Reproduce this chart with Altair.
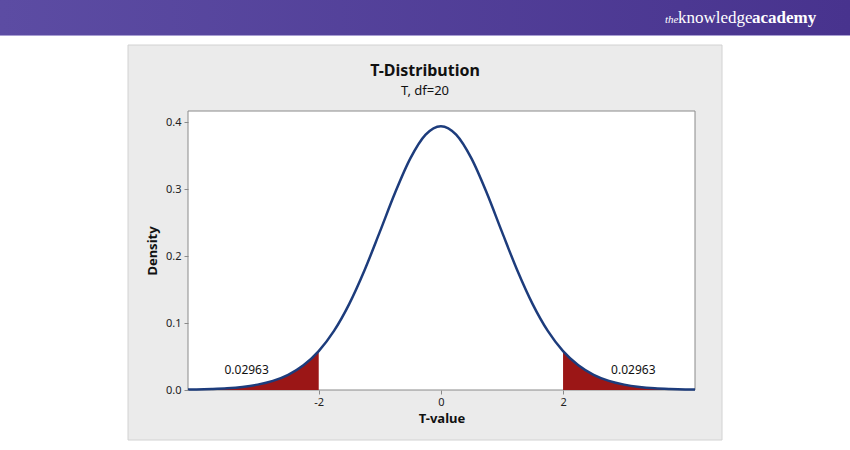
import altair as alt
import pandas as pd

# ---- data ----
t_values = [-4.14, -4.0, -3.75, -3.5, -3.25, -3.0, -2.75, -2.5, -2.25, -2.0,
            -1.75, -1.5, -1.25, -1.0, -0.75, -0.5, -0.25, 0.0,
            0.25, 0.5, 0.75, 1.0, 1.25, 1.5, 1.75, 2.0,
            2.25, 2.5, 2.75, 3.0, 3.25, 3.5, 3.75, 4.0, 4.16]
density = [0.0006, 0.0008, 0.0015, 0.0026, 0.0046, 0.0080, 0.0136, 0.0227, 0.0369, 0.0581,
           0.0882, 0.1286, 0.1788, 0.2360, 0.2944, 0.3457, 0.3812, 0.3939,
           0.3812, 0.3457, 0.2944, 0.2360, 0.1788, 0.1286, 0.0882, 0.0581,
           0.0369, 0.0227, 0.0136, 0.0080, 0.0046, 0.0026, 0.0015, 0.0008, 0.0006]

label_t = [-3.18, 3.15]
label_density = [0.030, 0.030]
label_text = ["0.02963", "0.02963"]

x_ticks = [-2, 0, 2]
y_ticks = [0.0, 0.1, 0.2, 0.3, 0.4]

title_text = "T-Distribution"
subtitle_text = "T, df=20"
x_title = "T-value"
y_title = "Density"

# ---- layout ----
W, H = 507, 279          # plot area
LEFT, TOP = 188, 111     # plot area origin on the 850x450 page
FONT = "Noto Sans"

curve = pd.DataFrame({"t": t_values, "density": density})
labels = pd.DataFrame({"t": label_t, "density": label_density, "text": label_text})
one = alt.Data(values=[{"k": 1}])

x_scale = alt.Scale(domain=[-4.14, 4.16], nice=False, zero=False)
y_scale = alt.Scale(domain=[0, 0.4165], nice=False)

x_enc = alt.X("t:Q", scale=x_scale,
              axis=alt.Axis(title=x_title, values=x_ticks, labelExpr="'' + datum.value",
                            zindex=2))
y_enc = alt.Y("density:Q", scale=y_scale,
              axis=alt.Axis(title=y_title, values=y_ticks, format=".1f", zindex=2))

# page decoration
band = alt.Chart(one).mark_rect(
    color={"gradient": "linear", "x1": 0, "x2": 1, "y1": 0, "y2": 0,
           "stops": [{"offset": 0, "color": "#5c4ca3"},
                     {"offset": 1, "color": "#48338e"}]}
).encode(x=alt.value(-LEFT), x2=alt.value(850 - LEFT),
         y=alt.value(-TOP), y2=alt.value(35 - TOP))

band_line = alt.Chart(one).mark_rule(color="#a89ed2", strokeWidth=1).encode(
    x=alt.value(-LEFT), x2=alt.value(850 - LEFT), y=alt.value(35.5 - TOP))

logo_the = alt.Chart(one).mark_text(
    text="the", font="Liberation Serif", fontStyle="italic", fontSize=11,
    color="white", align="left", baseline="alphabetic"
).encode(x=alt.value(665 - LEFT), y=alt.value(23 - TOP))
logo_k = alt.Chart(one).mark_text(
    text="knowledge", font="Liberation Serif", fontSize=17,
    color="white", align="left", baseline="alphabetic"
).encode(x=alt.value(678 - LEFT), y=alt.value(23 - TOP))
logo_a = alt.Chart(one).mark_text(
    text="academy", font="Liberation Serif", fontSize=17, fontWeight="bold",
    color="white", align="left", baseline="alphabetic"
).encode(x=alt.value(752 - LEFT), y=alt.value(23 - TOP))

panel = alt.Chart(one).mark_rect(fill="#ebebeb", stroke="#d2d2d2", strokeWidth=1).encode(
    x=alt.value(128 - LEFT), x2=alt.value(722 - LEFT),
    y=alt.value(45 - TOP), y2=alt.value(440 - TOP))

plot_bg = alt.Chart(one).mark_rect(fill="white", stroke="#8a8a8a", strokeWidth=1).encode(
    x=alt.value(0), x2=alt.value(W), y=alt.value(0), y2=alt.value(H))

# data marks
base = alt.Chart(curve)

left_tail = base.transform_filter("datum.t <= -2").mark_area(
    color="#9b1616", interpolate="monotone", opacity=1
).encode(x=x_enc, y=y_enc)

right_tail = base.transform_filter("datum.t >= 2").mark_area(
    color="#9b1616", interpolate="monotone", opacity=1
).encode(x=x_enc, y=y_enc)

line = base.mark_line(color="#1d3c7c", strokeWidth=2.5, interpolate="monotone").encode(
    x=x_enc, y=y_enc)

text = alt.Chart(labels).mark_text(font=FONT, fontSize=12, color="#111").encode(
    x=x_enc, y=y_enc, text="text:N")

chart = alt.layer(
    band, band_line, logo_the, logo_k, logo_a, panel, plot_bg,
    left_tail, right_tail, line, text
).properties(
    width=W, height=H,
    title=alt.TitleParams(
        text=title_text, subtitle=subtitle_text,
        font=FONT, fontSize=16, fontWeight="bold", color="#111",
        subtitleFont=FONT, subtitleFontSize=13, subtitleColor="#111",
        subtitlePadding=6, anchor="middle", frame="bounds", offset=-98),
    autosize=alt.AutoSizeParams(type="none"),
    padding={"left": LEFT, "top": TOP, "right": 850 - LEFT - W, "bottom": 450 - TOP - H},
    background="white",
).configure_view(stroke=None).configure_axis(
    grid=False, domain=False,
    tickColor="#8a8a8a", tickSize=4,
    labelFont=FONT, labelFontSize=11, labelColor="#222",
    titleFont=FONT, titleFontSize=13, titleFontWeight="bold", titleColor="#111",
).configure_axisX(labelPadding=2, titlePadding=5).configure_axisY(labelPadding=3, titlePadding=6)

chart.save("out.html", embed_options={"renderer": "svg", "actions": False})
